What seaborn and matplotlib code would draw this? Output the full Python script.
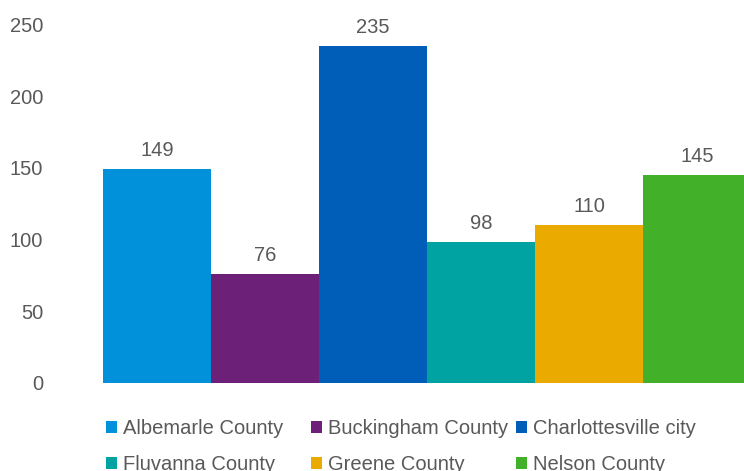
import matplotlib
matplotlib.use("Agg")
import matplotlib.pyplot as plt
from matplotlib.patches import Patch
import seaborn as sns
import pandas as pd

localities = ["Albemarle County", "Buckingham County", "Charlottesville city",
              "Fluvanna County", "Greene County", "Nelson County"]
counts = [149, 76, 235, 98, 110, 145]
colors = ["#0091DA", "#6D2077", "#005EB8", "#00A3A1", "#EAAA00", "#43B02A"]
y_ticks = [0, 50, 100, 150, 200, 250]

sns.set_theme(style="white")
plt.rcParams["font.family"] = ["Liberation Sans", "DejaVu Sans"]
text_color = "#595959"
font_size = 14.5

df = pd.DataFrame({"locality": localities, "count": counts})

fig = plt.figure(figsize=(7.44, 4.71), dpi=100)
ax = fig.add_axes([103 / 744, 1 - 383 / 471, 648 / 744, (383 - 24.5) / 471])

sns.barplot(data=df, x="locality", y="count", hue="locality",
            palette=colors, width=1.0, dodge=False, legend=False,
            saturation=1, linewidth=0, ax=ax)

for container in ax.containers:
    ax.bar_label(container, fmt="%d", padding=6.5, fontsize=font_size,
                 color=text_color)

ax.set_xlim(-0.5, len(localities) - 0.5)
ax.set_ylim(0, 250)
ax.set_yticks(y_ticks)
ax.set_yticklabels([str(t) for t in y_ticks], fontsize=font_size,
                   color=text_color)
ax.tick_params(axis="y", length=0, pad=43)
ax.set_xticks([])
ax.set_xlabel("")
ax.set_ylabel("")
for spine in ax.spines.values():
    spine.set_visible(False)

# Legend laid out row by row in three evenly spaced columns
handles = [Patch(facecolor=c, edgecolor="none") for c in colors]
column_x = [106, 311, 516]
for col, x0 in enumerate(column_x):
    idx = [col, col + 3]
    fig.legend([handles[i] for i in idx], [localities[i] for i in idx],
               loc="upper left", bbox_to_anchor=(x0 / 744, 1 - 419 / 471),
               ncol=1, frameon=False, fontsize=font_size,
               labelcolor=text_color, handlelength=0.55, handleheight=0.55,
               handletextpad=0.3, labelspacing=0.85, borderaxespad=0,
               borderpad=0)

fig.savefig("out.png", dpi=100)
